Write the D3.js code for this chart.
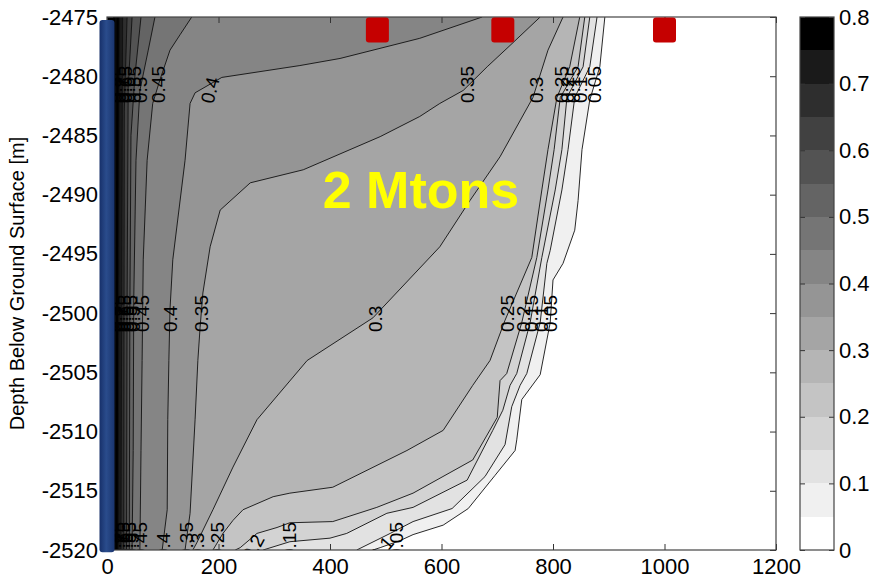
<!DOCTYPE html>
<html>
<head>
<meta charset="utf-8">
<script src="https://cdn.jsdelivr.net/npm/d3@7"></script>
<style>
  body { margin: 0; background: #fff; }
  svg { display: block; }
  text { font-family: "Liberation Sans", Arial, Helvetica, sans-serif; }
</style>
</head>
<body>
<svg id="chart" width="871" height="579"></svg>
<script>
// Contour levels of the plotted quantity
const levels = [0.05, 0.10, 0.15, 0.20, 0.25, 0.30, 0.35, 0.40,
                0.45, 0.50, 0.55, 0.60, 0.65, 0.70, 0.75, 0.80];

// Iso-lines, each as [distance (m), depth (m)] from the top of the section to its bottom
const iso005 = [[893,-2475],[884,-2479.2],[866,-2482.0],[852,-2486.2],[845,-2490.5],[839,-2493.0],[818,-2495.8],[800,-2497.2],[795,-2500.8],[777,-2505.2],[744,-2507.3],[735,-2510.7],[732,-2511.6],[696,-2513.7],[648,-2516.5],[603,-2517.9],[549,-2518.7],[526,-2519.2],[490,-2519.8],[477,-2520]];
const iso010 = [[879,-2475],[866,-2479.2],[839,-2481.8],[827,-2486.2],[816,-2489.6],[795,-2494.7],[789,-2495.8],[777,-2500.8],[753,-2505.1],[741,-2506.1],[726,-2507.9],[714,-2511.1],[678,-2513.8],[619,-2516.5],[549,-2517.6],[508,-2518.6],[448,-2520]];
const iso015 = [[866,-2475],[854,-2479.2],[825,-2481.8],[816,-2486.2],[804,-2489.6],[780,-2495.3],[759,-2500.8],[735,-2505.1],[723,-2506.1],[710,-2508.2],[692,-2509.9],[646,-2514.1],[549,-2516.4],[502,-2516.9],[430,-2518.6],[400,-2519.0],[328,-2519.3],[280,-2520]];
const iso020 = [[857,-2475],[845,-2479.2],[813,-2481.8],[802,-2486.2],[791,-2489.6],[771,-2495.3],[744,-2500.8],[717,-2505.1],[705,-2505.7],[700,-2508.8],[656,-2512.4],[549,-2515.2],[484,-2516.4],[405,-2517.6],[328,-2517.7],[305,-2518.1],[269,-2518.6],[239,-2519.8],[230,-2520]];
const iso025 = [[848,-2475],[830,-2479.2],[807,-2481.8],[791,-2486.2],[780,-2489.6],[762,-2495.3],[714,-2500.6],[687,-2504.0],[656,-2506.1],[603,-2509.9],[538,-2511.6],[405,-2514.7],[328,-2515.2],[298,-2515.5],[244,-2516.6],[226,-2517.5],[208,-2518.6],[190,-2520]];
const iso030 = [[818,-2475],[791,-2477.8],[764,-2481.8],[705,-2486.8],[651,-2490.5],[597,-2494.4],[477,-2500.4],[359,-2504.0],[269,-2509.0],[226,-2513.0],[190,-2516.6],[161,-2519.4],[154,-2520]];
const iso035 = [[777,-2475],[723,-2477.4],[682,-2479.2],[639,-2481.2],[597,-2482.3],[561,-2483.4],[490,-2485.1],[352,-2487.9],[257,-2489.0],[203,-2491.3],[185,-2494.4],[172,-2498.3],[167,-2501.2],[163,-2504.0],[158,-2509.0],[149,-2516.9],[140,-2520]];
const iso040 = [[673,-2475],[561,-2476.8],[418,-2478.5],[346,-2479.1],[206,-2480.1],[158,-2481.4],[149,-2482.3],[140,-2487.1],[118,-2495.5],[113,-2499.7],[111,-2504.0],[109,-2509.0],[108,-2516.6],[99,-2520]];
const iso045 = [[152,-2475],[131,-2476.5],[113,-2477.8],[95,-2480.3],[82,-2482.3],[72,-2487.1],[65,-2495.5],[63,-2504.0],[61,-2511.6],[59,-2520]];
const iso050 = [[86,-2475],[74,-2477.8],[59,-2481.2],[52,-2487.1],[48,-2498.9],[47,-2511.6],[45,-2520]];
const iso055 = [[61,-2475],[50,-2480],[43,-2485],[41,-2500],[40,-2520]];
const iso060 = [[45,-2475],[38,-2481],[36,-2500],[35,-2520]];
const iso065 = [[36,-2475],[31,-2483],[30,-2520]];
const iso070 = [[28,-2475],[25,-2520]];
const iso075 = [[22,-2475],[20,-2520]];
const iso080 = [[16,-2475],[14,-2520]];
const isolines = [iso005, iso010, iso015, iso020, iso025, iso030, iso035, iso040,
                  iso045, iso050, iso055, iso060, iso065, iso070, iso075, iso080];

// Axis ticks
const xTicks = [0, 200, 400, 600, 800, 1000, 1200];
const yTicks = [-2475, -2480, -2485, -2490, -2495, -2500, -2505, -2510, -2515, -2520];
const colorTicks = [0, 0.1, 0.2, 0.3, 0.4, 0.5, 0.6, 0.7, 0.8];

// Injection well and monitoring points
const wellX = 0;
const wellTop = -2475.25;
const wellBottom = -2520.2;
const monitorX = [485, 710, 1000];
const monitorDepth = -2476.1;

const annotation = "2 Mtons";
const yTitle = "Depth Below Ground Surface [m]";

// ---------------------------------------------------------------------------
const svg = d3.select("#chart");
const plot = { left: 107, right: 776, top: 17, bottom: 550 };
const xDomain = [0, 1200], yDomain = [-2520, -2475];
const x = d3.scaleLinear().domain(xDomain).range([plot.left, plot.right]);
const y = d3.scaleLinear().domain(yDomain).range([plot.bottom, plot.top]);

const nBands = levels.length;            // 16 bands from 0 to 0.8
const shade = b => {
  const v = Math.round(255 * Math.pow(1 - b / (nBands - 1), 0.85));
  return d3.rgb(v, v, v).toString();
};

const defs = svg.append("defs");
defs.append("clipPath").attr("id", "plotClip")
  .append("rect")
  .attr("x", plot.left).attr("y", plot.top)
  .attr("width", plot.right - plot.left).attr("height", plot.bottom - plot.top);

const wellGrad = defs.append("linearGradient").attr("id", "wellGrad")
  .attr("x1", "0%").attr("x2", "100%").attr("y1", "0%").attr("y2", "0%");
wellGrad.append("stop").attr("offset", "0%").attr("stop-color", "#17306a");
wellGrad.append("stop").attr("offset", "45%").attr("stop-color", "#2a4c8c");
wellGrad.append("stop").attr("offset", "100%").attr("stop-color", "#1a356f");

// Filled bands: everything left of an iso-line is at or above its level
const gFill = svg.append("g").attr("clip-path", "url(#plotClip)");
gFill.append("rect")
  .attr("x", plot.left).attr("y", plot.top)
  .attr("width", plot.right - plot.left).attr("height", plot.bottom - plot.top)
  .attr("fill", shade(0));

const toPx = p => [x(p[0]), y(p[1])];
const lineGen = d3.line();

isolines.forEach((iso, k) => {
  const pts = iso.map(toPx);
  pts.push([x(xDomain[0]), y(yDomain[0])], [x(xDomain[0]), y(yDomain[1])]);
  gFill.append("path")
    .attr("d", lineGen(pts) + "Z")
    .attr("fill", shade(k + 1));
});

// Iso-lines
const gLines = svg.append("g").attr("clip-path", "url(#plotClip)");
isolines.forEach(iso => {
  gLines.append("path")
    .attr("d", lineGen(iso.map(toPx)))
    .attr("fill", "none")
    .attr("stroke", "#111")
    .attr("stroke-width", 0.9);
});

// Distance of an iso-line at a given depth (linear along the polyline)
function xAtDepth(iso, depth) {
  const d = Math.max(yDomain[0], Math.min(yDomain[1], depth));
  for (let i = 0; i < iso.length - 1; i++) {
    const [x0, d0] = iso[i], [x1, d1] = iso[i + 1];
    if (d <= d0 && d >= d1) {
      const t = d0 === d1 ? 0 : (d0 - d) / (d0 - d1);
      return x0 + t * (x1 - x0);
    }
  }
  return iso[iso.length - 1][0];
}

// Contour labels, three rows; each label starts at the anchor and reads upward
const labelFmt = v => String(+v.toFixed(2));
const labelRows = [
  { anchorPx: 103, lookPx: 86, angle: v => (v === 0.4 ? -76 : -90) },
  { anchorPx: 332, lookPx: 315, angle: () => -90 },
  { anchorPx: 559, lookPx: 542, angle: v => (v === 0.1 ? -50 : v === 0.2 ? -62 : -90) }
];
const gLabels = svg.append("g").attr("clip-path", "url(#plotClip)");
labelRows.forEach(row => {
  levels.forEach((v, k) => {
    const lx = x(xAtDepth(isolines[k], y.invert(row.lookPx)));
    gLabels.append("text")
      .attr("transform", `translate(${lx},${row.anchorPx}) rotate(${row.angle(v)})`)
      .attr("dy", "0.35em")
      .attr("font-size", 19)
      .attr("fill", "#000")
      .text(labelFmt(v));
  });
});

// Axes with inward ticks
const tickColor = "#333";
function styleAxis(g) {
  g.select(".domain").remove();
  g.selectAll(".tick line").attr("stroke", tickColor);
  g.selectAll(".tick text").attr("fill", "#000").attr("font-size", 22)
    .attr("font-family", '"Liberation Sans", Arial, Helvetica, sans-serif');
}
svg.append("g").attr("transform", `translate(0,${plot.bottom})`)
  .call(d3.axisBottom(x).tickValues(xTicks).tickSizeInner(-6).tickSizeOuter(0)
    .tickPadding(8).tickFormat(d => String(d)))
  .call(styleAxis);
svg.append("g").attr("transform", `translate(0,${plot.top})`)
  .call(d3.axisTop(x).tickValues(xTicks).tickSizeInner(-6).tickSizeOuter(0).tickFormat(""))
  .call(styleAxis);
svg.append("g").attr("transform", `translate(${plot.left},0)`)
  .call(d3.axisLeft(y).tickValues(yTicks).tickSizeInner(-6).tickSizeOuter(0)
    .tickPadding(9).tickFormat(d => String(d)))
  .call(styleAxis);
svg.append("g").attr("transform", `translate(${plot.right},0)`)
  .call(d3.axisRight(y).tickValues(yTicks).tickSizeInner(-6).tickSizeOuter(0).tickFormat(""))
  .call(styleAxis);

svg.append("rect")
  .attr("x", plot.left).attr("y", plot.top)
  .attr("width", plot.right - plot.left).attr("height", plot.bottom - plot.top)
  .attr("fill", "none").attr("stroke", "#444").attr("stroke-width", 1.2);

// Well
svg.append("rect")
  .attr("x", x(wellX) - 7.5).attr("y", y(wellTop))
  .attr("width", 15).attr("height", y(wellBottom) - y(wellTop))
  .attr("rx", 3).attr("fill", "url(#wellGrad)");

// Monitoring points
svg.append("g").selectAll("rect").data(monitorX).join("rect")
  .attr("x", d => x(d) - 11.5).attr("y", y(monitorDepth) - 12.5)
  .attr("width", 23).attr("height", 25).attr("rx", 3)
  .attr("fill", "#c50000");

// Annotation
svg.append("text")
  .attr("x", x(387)).attr("y", y(-2491.1))
  .attr("font-size", 52).attr("font-weight", "bold")
  .attr("fill", "#ffff00")
  .text(annotation);

// Y title
svg.append("text")
  .attr("transform", `translate(24,${(plot.top + plot.bottom) / 2}) rotate(-90)`)
  .attr("text-anchor", "middle")
  .attr("font-size", 20)
  .attr("fill", "#000")
  .text(yTitle);

// Colour bar
const cb = { left: 800, right: 834, top: 17, bottom: 550 };
const c = d3.scaleLinear().domain([0, 0.8]).range([cb.bottom, cb.top]);
const bandEdges = d3.range(nBands + 1).map(i => i * 0.05);
svg.append("g").selectAll("rect").data(d3.range(nBands)).join("rect")
  .attr("x", cb.left)
  .attr("y", b => c(bandEdges[b + 1]))
  .attr("width", cb.right - cb.left)
  .attr("height", b => c(bandEdges[b]) - c(bandEdges[b + 1]))
  .attr("fill", b => shade(b))
  .attr("shape-rendering", "crispEdges");
svg.append("g").attr("transform", `translate(${cb.right},0)`)
  .call(d3.axisRight(c).tickValues(colorTicks).tickSizeInner(-5).tickSizeOuter(0)
    .tickPadding(5).tickFormat(d => (d === 0 ? "0" : d.toFixed(1))))
  .call(styleAxis);
svg.append("g").attr("transform", `translate(${cb.left},0)`)
  .call(d3.axisLeft(c).tickValues(colorTicks).tickSizeInner(-5).tickSizeOuter(0).tickFormat(""))
  .call(styleAxis);
svg.append("rect")
  .attr("x", cb.left).attr("y", cb.top)
  .attr("width", cb.right - cb.left).attr("height", cb.bottom - cb.top)
  .attr("fill", "none").attr("stroke", "#444").attr("stroke-width", 1.2);
</script>
</body>
</html>
